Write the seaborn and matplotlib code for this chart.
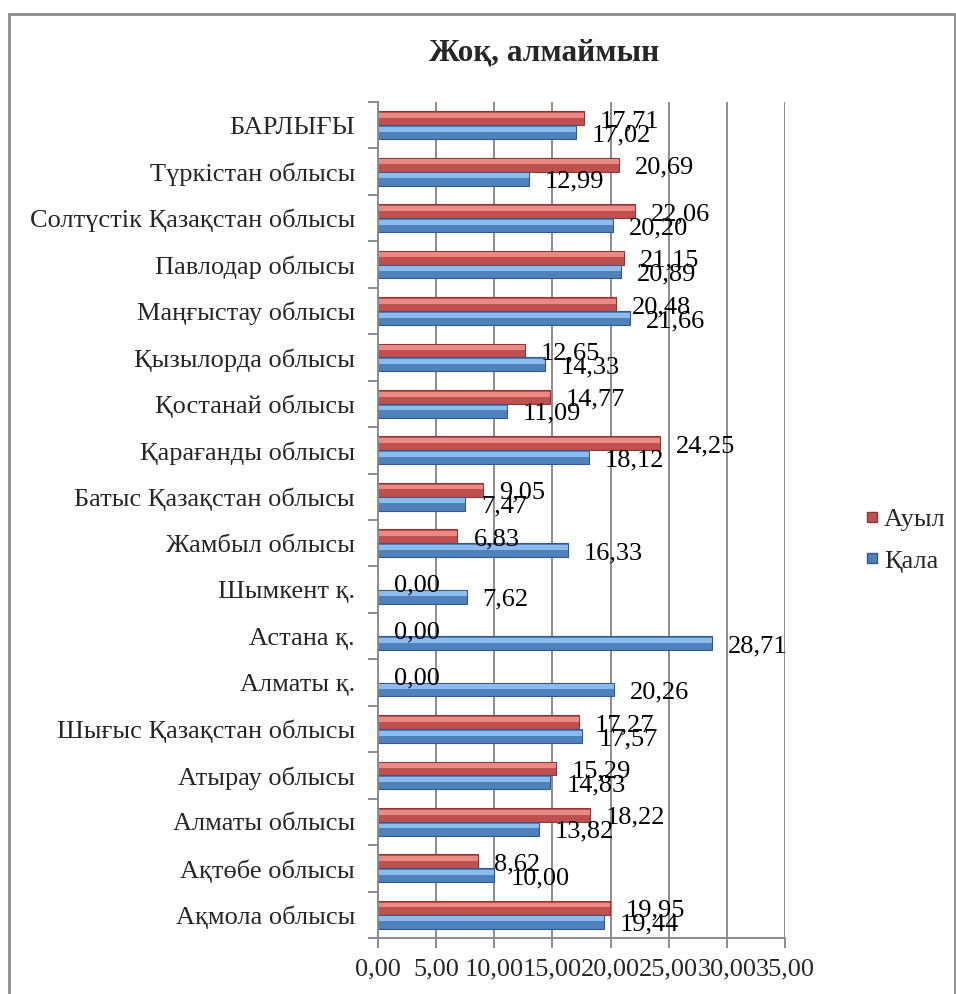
import matplotlib
matplotlib.use("Agg")
import matplotlib.pyplot as plt
import seaborn as sns
import pandas as pd
from matplotlib.patches import Rectangle
from matplotlib.lines import Line2D

categories = [
    "БАРЛЫҒЫ", "Түркістан облысы", "Солтүстік Қазақстан облысы", "Павлодар облысы",
    "Маңғыстау облысы", "Қызылорда облысы", "Қостанай облысы", "Қарағанды облысы",
    "Батыс Қазақстан облысы", "Жамбыл облысы", "Шымкент қ.", "Астана қ.",
    "Алматы қ.", "Шығыс Қазақстан облысы", "Атырау облысы", "Алматы облысы",
    "Ақтөбе облысы", "Ақмола облысы",
]
auyl = [17.71, 20.69, 22.06, 21.15, 20.48, 12.65, 14.77, 24.25, 9.05, 6.83,
        0.00, 0.00, 0.00, 17.27, 15.29, 18.22, 8.62, 19.95]
qala = [17.02, 12.99, 20.20, 20.89, 21.66, 14.33, 11.09, 18.12, 7.47, 16.33,
        7.62, 28.71, 20.26, 17.57, 14.83, 13.82, 10.00, 19.44]
series_names = ["Ауыл", "Қала"]
x_ticks = [0, 5, 10, 15, 20, 25, 30, 35]
title = "Жоқ, алмаймын"

colors = {"Ауыл": "#C0504D", "Қала": "#4F81BD"}
light = {"Ауыл": "#E98A87", "Қала": "#8DBBEE"}
dark = {"Ауыл": "#8C3836", "Қала": "#35598A"}

sns.set_style("white")
plt.rcParams["font.family"] = ["Liberation Serif", "DejaVu Serif"]

df = pd.DataFrame({
    "cat": categories * 2,
    "val": auyl + qala,
    "series": [series_names[0]] * len(categories) + [series_names[1]] * len(categories),
})

fig = plt.figure(figsize=(9.56, 9.94), dpi=100)
ax = fig.add_axes([378 / 956, 1 - 938 / 994, 407 / 956, 836 / 994])

sns.barplot(data=df, x="val", y="cat", hue="series", hue_order=series_names,
            order=categories, orient="h", palette=colors, width=0.6,
            legend=False, ax=ax, errorbar=None, saturation=1)

# 3D-like shading on each bar, derived from the drawn patches
bars = list(ax.patches)
for i, p in enumerate(bars):
    s = series_names[i // len(categories)]
    p.set_edgecolor(dark[s])
    p.set_linewidth(0.8)
    x0, y0 = p.get_x(), p.get_y()
    w, h = p.get_width(), p.get_height()
    if w > 0:
        ax.add_patch(Rectangle((x0, y0 + h * 0.12), w, h * 0.35,
                               facecolor=light[s], edgecolor="none", zorder=p.get_zorder() + 0.1))

# Data labels
for i, p in enumerate(bars):
    w = p.get_width()
    yc = p.get_y() + p.get_height() / 2
    ax.annotate(f"{w:.2f}".replace(".", ","), xy=(w, yc), xytext=(16, -3),
                textcoords="offset pixels", ha="left", va="center",
                fontsize=19, color="black", zorder=5)

ax.set_xlim(0, 35)
ax.set_ylim(len(categories) - 0.5, -0.5)
ax.set_xticks(x_ticks)
ax.set_xticklabels([f"{t:.2f}".replace(".", ",") for t in x_ticks], fontsize=19)
ax.set_yticks(range(len(categories)))
ax.set_yticklabels(categories, fontsize=19)
ax.set_xlabel("")
ax.set_ylabel("")

ax.grid(axis="x", color="#8C8C8C", linewidth=1.4)
ax.set_axisbelow(True)
for side in ["top", "right"]:
    ax.spines[side].set_visible(False)
for side in ["left", "bottom"]:
    ax.spines[side].set_visible(True)
    ax.spines[side].set_color("#8C8C8C")
    ax.spines[side].set_linewidth(1.4)

# category separator ticks on y axis
ax.yaxis.set_tick_params(length=0, pad=16.5)
ax.set_yticks([k - 0.5 for k in range(len(categories) + 1)], minor=True)
ax.tick_params(axis="y", which="minor", length=7, width=1.4, color="#8C8C8C", direction="out", left=True)
ax.tick_params(axis="x", which="major", length=7, width=1.4, color="#8C8C8C", direction="out", bottom=True, pad=8)

fig.text(544 / 956, 1 - 53 / 994, title, ha="center", va="center",
         fontsize=22.5, fontweight="bold")

handles = [Line2D([], [], marker="s", linestyle="none", markersize=7,
                  markerfacecolor=colors[s], markeredgecolor=dark[s]) for s in series_names]
fig.legend(handles, series_names, loc="center left", bbox_to_anchor=(864 / 956, 1 - 540 / 994),
           frameon=False, fontsize=19, handlelength=0.6, handletextpad=0.15, labelspacing=0.7,
           borderpad=0, borderaxespad=0)

fig.patches.append(Rectangle((9 / 956, -0.05), (955 - 9) / 956, 1.05 - 14 / 994,
                             transform=fig.transFigure, fill=False,
                             edgecolor="#8C8C8C", linewidth=2, figure=fig))

fig.savefig("out.png", dpi=100)
